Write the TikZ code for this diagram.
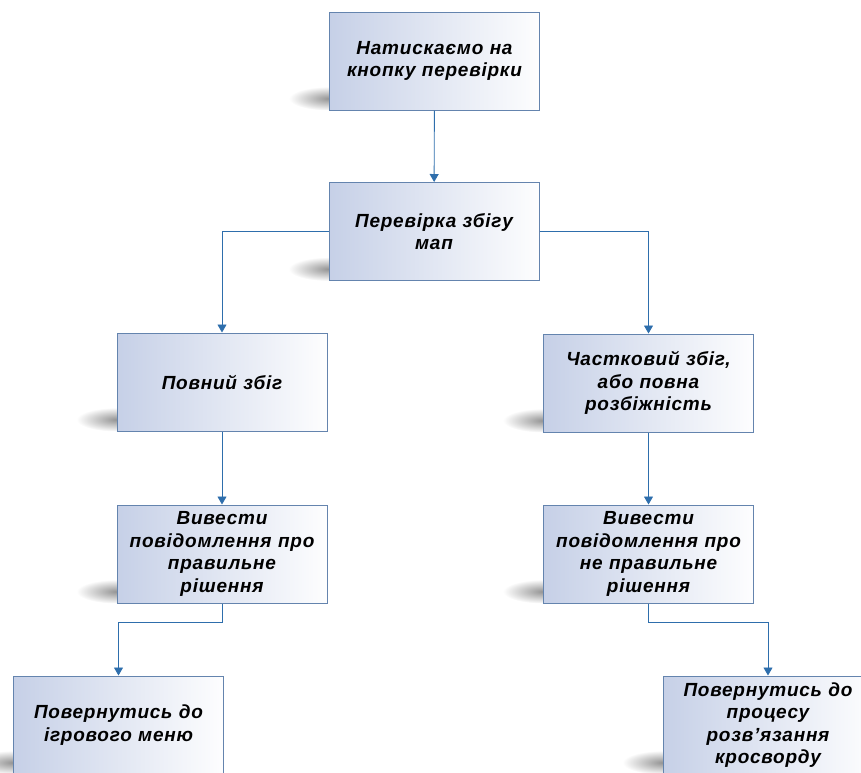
\documentclass[tikz,border=0pt]{standalone}
\usepackage{fontspec}
\setmainfont{Liberation Sans}
\usetikzlibrary{arrows.meta,backgrounds,calc}
\definecolor{edgeblue}{RGB}{100,132,174}
\definecolor{linkblue}{RGB}{46,110,172}
\definecolor{tintblue}{RGB}{198,208,231}
\tikzset{
  x=1pt, y=1pt,
  stepbox/.style={draw=edgeblue, line width=1pt,
    minimum width=210pt, minimum height=98pt, inner sep=0pt,
    align=center, text width=206pt,
    font=\fontsize{19}{22.5}\selectfont\bfseries\itshape\addfontfeatures{LetterSpace=4},
    left color=tintblue, right color=white!97!tintblue},
  link/.style={draw=linkblue, line width=0.9pt,
    -{Triangle[width=9pt,length=8pt]}},
  shadowblob/.style={inner color=black!42, outer color=white}
}
\newcommand{\boxshadow}[1]{%
  \shade[shadowblob] ($(#1.south west)+(0,12)$) ellipse (40pt and 12pt);}
\begin{document}
\begin{tikzpicture}
  \useasboundingbox (0,0) rectangle (861,-772);

  \node[stepbox] (press)   at (434.5,-61)  {Натискаємо на\\кнопку перевірки};
  \node[stepbox] (check)   at (434,-231.5) {Перевірка збігу\\мап};
  \node[stepbox] (full)    at (222,-382)   {Повний збіг};
  \node[stepbox] (partial) at (648.5,-383) {Частковий збіг,\\або повна\\розбіжність};
  \node[stepbox] (okmsg)   at (222,-554)   {Вивести\\повідомлення про\\правильне\\рішення};
  \node[stepbox] (badmsg)  at (648.5,-554) {Вивести\\повідомлення про\\не правильне\\рішення};
  \node[stepbox] (menu)    at (118.5,-725) {Повернутись до\\ігрового меню};
  \node[stepbox] (resume)  at (768,-725)   {Повернутись до\\процесу\\розв’язання\\кросворду};

  % connectors
  \draw[link] (press) -- (check);
  \draw[link] (check.west) -| (full.north);
  \draw[link] (check.east) -| (partial.north);
  \draw[link] (full) -- (okmsg);
  \draw[link] (partial) -- (badmsg);
  \coordinate (okturn) at ($(okmsg.south)+(0,-19)$);
  \coordinate (badturn) at ($(badmsg.south)+(0,-19)$);
  \draw[link] (okmsg.south) -- (okturn) -| (menu.north);
  \draw[link] (badmsg.south) -- (badturn) -| (resume.north);

  % soft shadows behind the boxes
  \begin{scope}[on background layer]
    \foreach \b in {press,check,full,partial,okmsg,badmsg,menu,resume}
      {\boxshadow{\b}}
  \end{scope}
\end{tikzpicture}
\end{document}
